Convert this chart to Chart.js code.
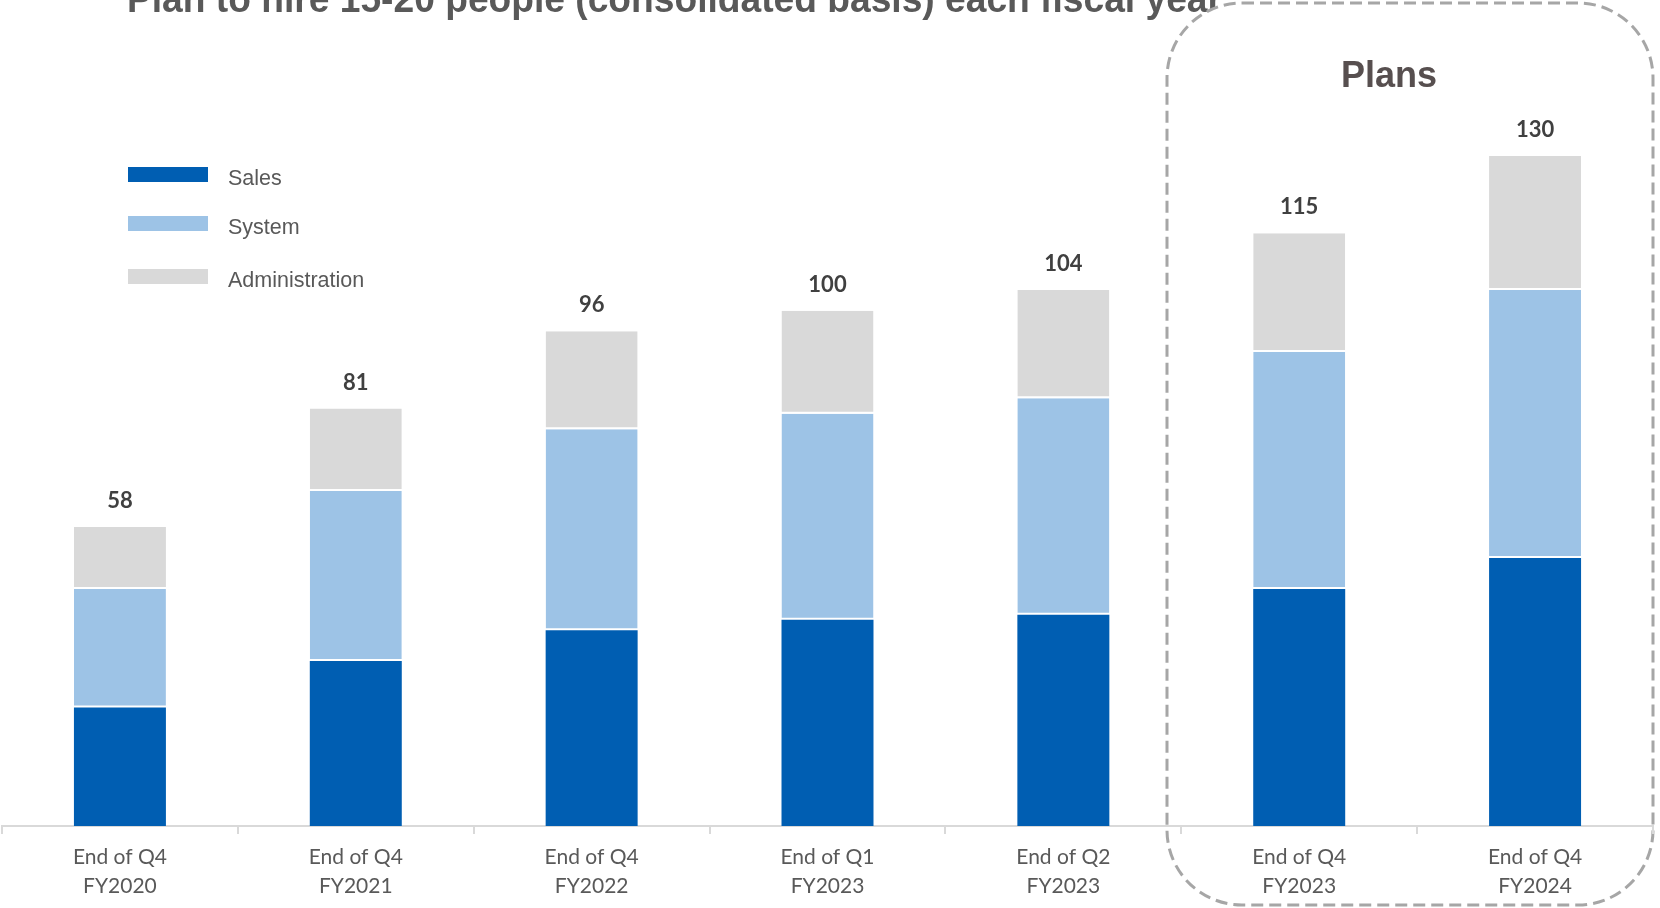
<!DOCTYPE html>
<html>
<head>
<meta charset="utf-8">
<title>Headcount</title>
<script src="https://cdn.jsdelivr.net/npm/chart.js@4.4.1/dist/chart.umd.min.js"></script>
<style>
  html, body { margin: 0; padding: 0; background: #fff; }
  canvas { display: block; }
</style>
</head>
<body>
<canvas id="chart" width="1660" height="908"></canvas>
<script>
// headcount by period, stacked by department
const periods = [
  ['End of Q4', 'FY2020'],
  ['End of Q4', 'FY2021'],
  ['End of Q4', 'FY2022'],
  ['End of Q1', 'FY2023'],
  ['End of Q2', 'FY2023'],
  ['End of Q4', 'FY2023'],
  ['End of Q4', 'FY2024'],
];
const sales = [23, 32, 38, 40, 41, 46, 52];
const system = [23, 33, 39, 40, 42, 46, 52];
const administration = [12, 16, 19, 20, 21, 23, 26];

const titleText = 'Plan to hire 15-20 people (consolidated basis) each fiscal year';
const plansText = 'Plans';

const GREY_TEXT = '#595959';

// title, then the dashed "Plans" frame (white filled, so it hides the end of the title)
const backdrop = {
  id: 'backdrop',
  beforeDraw(chart) {
    const c = chart.ctx;
    c.save();
    c.fillStyle = '#fff';
    c.fillRect(0, 0, chart.width, chart.height);

    c.font = 'bold 38px "Liberation Sans", Arial, sans-serif';
    c.fillStyle = GREY_TEXT;
    c.textBaseline = 'alphabetic';
    c.textAlign = 'left';
    const w = c.measureText(titleText).width;
    c.translate(127, 12);
    c.scale(1095 / w, 1);
    c.fillText(titleText, 0, 0);
    c.restore();

    c.save();
    c.beginPath();
    c.roundRect(1167, 3, 486, 902, 75);
    c.fillStyle = '#fff';
    c.fill();
    c.setLineDash([12, 6]);
    c.lineWidth = 3;
    c.strokeStyle = '#a6a6a6';
    c.stroke();
    c.setLineDash([]);

    c.font = 'bold 36px "Liberation Sans", Arial, sans-serif';
    c.fillStyle = '#574f4f';
    c.textAlign = 'center';
    c.fillText(plansText, 1389, 87);
    c.restore();
  }
};

// totals above each stack and the legend block
const extras = {
  id: 'extras',
  afterDatasetsDraw(chart) {
    const c = chart.ctx;
    const sets = chart.data.datasets;
    const topMeta = chart.getDatasetMeta(sets.length - 1);
    c.save();
    c.font = 'bold 22px Lato, sans-serif';
    c.fillStyle = '#404040';
    c.textAlign = 'center';
    c.textBaseline = 'middle';
    topMeta.data.forEach((bar, i) => {
      const total = sets.reduce((s, ds) => s + ds.data[i], 0);
      c.fillText(String(total), bar.x, bar.y - 26);
    });

    c.font = '21.5px "Liberation Sans", Arial, sans-serif';
    c.textAlign = 'left';
    const rows = [167, 216, 269];
    sets.forEach((ds, i) => {
      c.fillStyle = ds.backgroundColor;
      c.fillRect(128, rows[i], 80, 15);
      c.fillStyle = GREY_TEXT;
      c.fillText(ds.label, 228, rows[i] + 12);
    });
    c.restore();
  }
};

// thin white seam along the bottom of the upper segments
const seam = { top: 0, left: 0, right: 0, bottom: 2 };

const ctx = document.getElementById('chart').getContext('2d');

new Chart(ctx, {
  type: 'bar',
  data: {
    labels: periods,
    datasets: [
      {
        label: 'Sales',
        data: sales,
        backgroundColor: '#005eb2',
        borderWidth: 0,
      },
      {
        label: 'System',
        data: system,
        backgroundColor: '#9dc3e6',
        borderColor: '#ffffff',
        borderSkipped: false,
        borderWidth: seam,
      },
      {
        label: 'Administration',
        data: administration,
        backgroundColor: '#d9d9d9',
        borderColor: '#ffffff',
        borderSkipped: false,
        borderWidth: seam,
      },
    ],
  },
  options: {
    responsive: false,
    animation: false,
    events: [],
    categoryPercentage: 1,
    barPercentage: 0.39,
    layout: { padding: { left: 2, right: 7, top: 53, bottom: 0 } },
    plugins: {
      legend: { display: false },
      tooltip: { enabled: false },
      title: { display: false },
    },
    scales: {
      x: {
        stacked: true,
        afterFit: (scale) => { scale.height = 82; },
        grid: {
          display: true,
          offset: true,
          drawOnChartArea: false,
          drawTicks: true,
          tickLength: 8,
          color: '#d9d9d9',
          lineWidth: 2,
        },
        border: { display: true, color: '#d9d9d9', width: 2 },
        ticks: {
          color: GREY_TEXT,
          padding: 9,
          maxRotation: 0,
          autoSkip: false,
          font: { family: 'Lato, sans-serif', size: 21, lineHeight: 1.357 },
        },
      },
      y: {
        stacked: true,
        display: false,
        min: 0,
        max: 150,
      },
    },
  },
  plugins: [backdrop, extras],
});
</script>
</body>
</html>
